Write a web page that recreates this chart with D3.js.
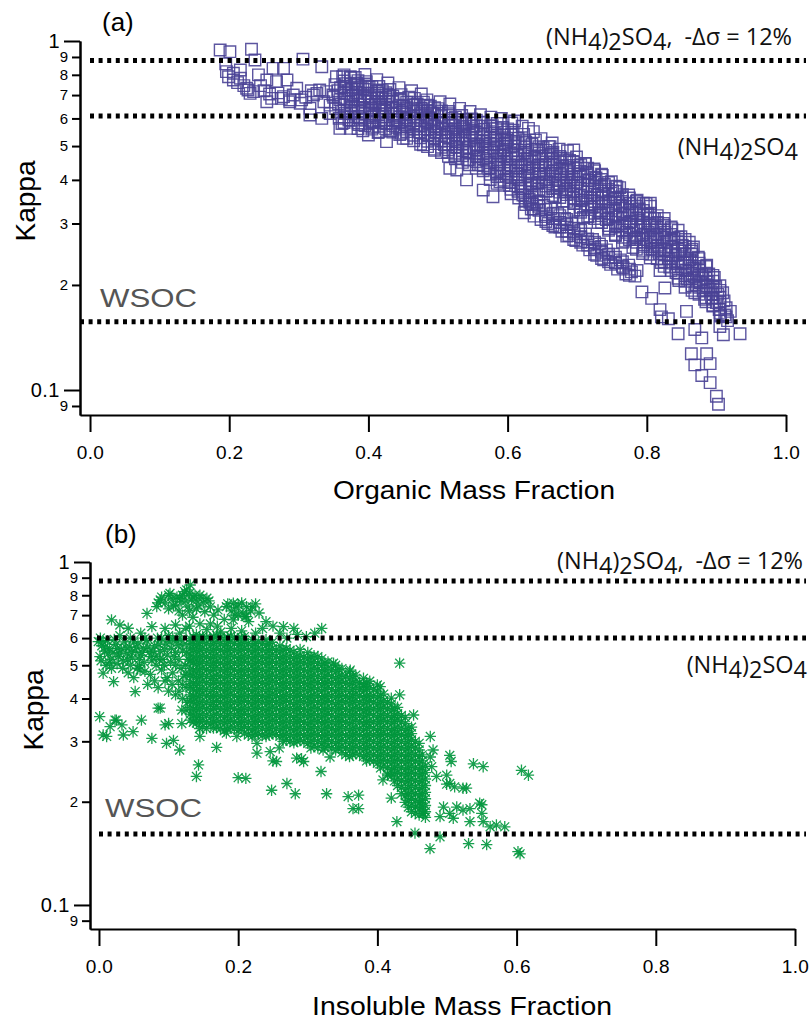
<!DOCTYPE html>
<html>
<head>
<meta charset="utf-8">
<script src="https://cdn.jsdelivr.net/npm/d3@7"></script>
<style>
  body { margin: 0; background: #fff; }
  svg { display: block; }
</style>
</head>
<body>
<div id="container"></div>
<script>
"use strict";

// axis ticks
const xTicks = [0, 0.2, 0.4, 0.6, 0.8, 1.0];
const yMajorTicks = [0.1, 1];
const yMinorTicks = [0.09, 0.2, 0.3, 0.4, 0.5, 0.6, 0.7, 0.8, 0.9];

// reference kappa lines: (NH4)2SO4 -12%, (NH4)2SO4, WSOC
const refKappaA = [0.88, 0.61, 0.157];
const refKappaB = [0.88, 0.60, 0.161];

// panel (a): [organic mass fraction, kappa]
const squaresA = [
  [0.187,0.942],[0.201,0.932],[0.232,0.947],[0.237,0.882],[0.196,0.817],[0.206,0.773],[0.216,0.782],[0.227,0.724],
  [0.235,0.716],[0.254,0.773],[0.263,0.835],[0.268,0.765],[0.278,0.835],[0.283,0.773],[0.261,0.685],[0.275,0.685],
  [0.287,0.678],[0.306,0.887],[0.333,0.844],[0.304,0.678],[0.321,0.70],[0.330,0.724],[0.354,0.79],[0.359,0.678],
  [0.374,0.79],[0.383,0.757],[0.230,0.708],[0.225,0.732],[0.254,0.67],[0.278,0.693],[0.287,0.67],[0.302,0.663],
  [0.316,0.641],[0.297,0.732],[0.326,0.708],[0.340,0.716],[0.206,0.808],[0.216,0.826],[0.199,0.79],[0.212,0.76],
  [0.221,0.745],[0.245,0.745],[0.25,0.72],[0.258,0.705],[0.27,0.71],[0.292,0.70],[0.31,0.69],[0.318,0.72],
  [0.336,0.67],[0.345,0.655],[0.35,0.69],[0.242,0.80],[0.195,0.86],[0.345,0.62],[0.316,0.614],[0.333,0.60],
  [0.352,0.75],[0.356,0.72],[0.349,0.70],[0.357,0.66],[0.353,0.64],[0.358,0.60],[0.362,0.58],
  [0.363,0.79],[0.367,0.755],[0.371,0.72],[0.369,0.683],[0.376,0.652],[0.379,0.628],[0.381,0.786],[0.385,0.748],
  [0.383,0.712],[0.388,0.676],[0.391,0.645],[0.387,0.603],[0.395,0.802],[0.397,0.765],[0.401,0.738],[0.399,0.706],
  [0.404,0.671],[0.403,0.642],[0.409,0.618],[0.407,0.588],[0.412,0.775],[0.415,0.741],[0.413,0.709],[0.419,0.688],
  [0.417,0.655],[0.423,0.632],[0.421,0.606],[0.426,0.579],[0.428,0.758],[0.431,0.726],[0.429,0.698],[0.435,0.671],
  [0.433,0.644],[0.437,0.618],[0.441,0.594],[0.439,0.566],[0.444,0.735],[0.447,0.702],[0.445,0.676],[0.451,0.652],
  [0.449,0.626],[0.455,0.602],[0.453,0.575],[0.458,0.69],[0.359,0.562],[0.374,0.562],[0.40,0.538],[0.426,0.515],
  [0.45,0.526],[0.386,0.576],[0.392,0.553],[0.414,0.547],[0.432,0.552],[0.447,0.544],[0.372,0.594],[0.406,0.566],
  [0.418,0.583],[0.366,0.62],[0.378,0.70],[0.394,0.69],[0.41,0.66],[0.425,0.69],[0.44,0.64],[0.36,0.735],
  [0.392,0.73],[0.42,0.72],
  [0.462,0.72],[0.466,0.685],[0.464,0.655],[0.469,0.628],[0.471,0.601],[0.468,0.574],[0.473,0.548],[0.476,0.705],
  [0.479,0.668],[0.477,0.64],[0.482,0.612],[0.484,0.588],[0.481,0.56],[0.486,0.535],[0.484,0.678],[0.489,0.65],
  [0.492,0.622],[0.49,0.596],[0.494,0.57],[0.497,0.546],[0.495,0.52],[0.479,0.504],[0.503,0.67],[0.5,0.64],
  [0.505,0.612],[0.508,0.585],[0.506,0.558],[0.511,0.532],[0.509,0.505],[0.514,0.48],[0.517,0.66],[0.515,0.628],
  [0.52,0.6],[0.522,0.574],[0.519,0.548],[0.525,0.522],[0.527,0.496],[0.524,0.47],[0.517,0.432],[0.527,0.427],
  [0.531,0.641],[0.534,0.612],[0.532,0.585],[0.537,0.56],[0.539,0.534],[0.536,0.508],[0.541,0.482],[0.543,0.456],
  [0.541,0.40],[0.546,0.628],[0.548,0.598],[0.551,0.57],[0.549,0.545],[0.554,0.52],[0.552,0.494],[0.556,0.468],
  [0.558,0.442],[0.47,0.66],[0.488,0.60],[0.5,0.58],[0.512,0.56],[0.526,0.55],[0.54,0.58],[0.495,0.49],
  [0.53,0.53],[0.46,0.59],[0.565,0.374],[0.579,0.358],
  [0.561,0.615],[0.563,0.585],[0.566,0.558],[0.564,0.532],[0.568,0.505],[0.571,0.48],[0.569,0.455],[0.573,0.43],
  [0.576,0.605],[0.578,0.572],[0.581,0.545],[0.583,0.52],[0.58,0.494],[0.585,0.468],[0.587,0.443],[0.584,0.418],
  [0.589,0.395],[0.591,0.6],[0.593,0.565],[0.595,0.538],[0.597,0.51],[0.594,0.484],[0.599,0.46],[0.601,0.434],
  [0.598,0.41],[0.603,0.385],[0.605,0.365],[0.606,0.582],[0.608,0.555],[0.611,0.527],[0.609,0.5],[0.613,0.474],
  [0.615,0.45],[0.612,0.425],[0.617,0.40],[0.619,0.378],[0.616,0.355],[0.621,0.57],[0.623,0.54],[0.626,0.512],
  [0.624,0.486],[0.628,0.46],[0.631,0.436],[0.629,0.412],[0.633,0.39],[0.635,0.368],[0.632,0.345],[0.637,0.33],
  [0.63,0.562],[0.637,0.55],[0.64,0.52],[0.642,0.49],[0.639,0.465],[0.644,0.44],[0.646,0.415],[0.643,0.392],
  [0.575,0.53],[0.59,0.47],[0.6,0.52],[0.62,0.44],[0.557,0.50],[0.585,0.58],[0.61,0.59],[0.6,0.56],
  [0.648,0.525],[0.651,0.495],[0.649,0.468],[0.654,0.442],[0.652,0.418],[0.656,0.395],[0.658,0.372],
  [0.661,0.498],[0.664,0.51],[0.663,0.475],[0.667,0.45],[0.665,0.425],[0.669,0.402],[0.671,0.38],[0.668,0.358],
  [0.674,0.49],[0.676,0.462],[0.679,0.438],[0.677,0.414],[0.681,0.392],[0.683,0.37],[0.68,0.348],
  [0.686,0.485],[0.689,0.455],[0.687,0.43],[0.692,0.408],[0.69,0.386],[0.694,0.364],[0.696,0.342],
  [0.699,0.465],[0.701,0.44],[0.703,0.416],[0.70,0.394],[0.705,0.372],[0.707,0.35],[0.704,0.328],[0.709,0.312],
  [0.712,0.445],[0.714,0.42],[0.717,0.398],[0.715,0.376],[0.719,0.355],[0.721,0.334],[0.718,0.315],
  [0.724,0.43],[0.727,0.405],[0.725,0.383],[0.729,0.362],[0.731,0.342],[0.733,0.322],[0.73,0.302],
  [0.736,0.412],[0.739,0.388],[0.737,0.366],[0.741,0.346],[0.744,0.327],[0.742,0.308],[0.746,0.29],
  [0.749,0.395],[0.751,0.372],[0.754,0.352],[0.752,0.332],[0.756,0.313],[0.758,0.295],[0.755,0.277],
  [0.761,0.38],[0.764,0.358],[0.762,0.338],[0.766,0.318],[0.768,0.30],[0.771,0.283],[0.769,0.267],
  [0.774,0.362],[0.776,0.342],[0.779,0.322],[0.777,0.304],[0.781,0.287],[0.783,0.27],[0.78,0.256],
  [0.786,0.35],[0.789,0.33],[0.787,0.31],[0.791,0.293],[0.793,0.277],[0.796,0.261],[0.794,0.246],
  [0.799,0.342],[0.801,0.32],[0.804,0.30],[0.802,0.283],[0.806,0.268],[0.808,0.253],[0.805,0.239],
  [0.811,0.31],[0.814,0.292],[0.812,0.275],[0.816,0.26],[0.818,0.246],[0.821,0.232],[0.819,0.22],
  [0.824,0.30],[0.826,0.283],[0.829,0.267],[0.827,0.252],[0.831,0.238],[0.833,0.225],
  [0.836,0.29],[0.839,0.272],[0.837,0.257],[0.841,0.243],[0.844,0.23],[0.842,0.217],[0.846,0.206],
  [0.849,0.275],[0.851,0.26],[0.854,0.245],[0.852,0.232],[0.856,0.22],[0.858,0.208],[0.855,0.197],
  [0.861,0.265],[0.864,0.25],[0.862,0.236],[0.866,0.223],[0.868,0.211],[0.871,0.20],[0.869,0.19],
  [0.867,0.257],[0.874,0.24],[0.876,0.226],[0.879,0.214],[0.877,0.203],[0.881,0.192],[0.883,0.182],
  [0.886,0.228],[0.889,0.215],[0.887,0.204],[0.891,0.194],[0.893,0.184],[0.895,0.175],
  [0.897,0.21],[0.899,0.198],[0.902,0.188],[0.90,0.178],[0.904,0.17],[0.906,0.163],
  [0.909,0.19],[0.911,0.18],[0.914,0.172],[0.912,0.164],[0.916,0.158],[0.92,0.168],
  [0.757,0.382],[0.805,0.343],[0.711,0.446],[0.695,0.487],[0.659,0.498],
  [0.622,0.362],[0.626,0.34],[0.624,0.322],[0.631,0.352],[0.634,0.33],[0.638,0.315],[0.642,0.345],[0.645,0.327],
  [0.648,0.308],[0.652,0.338],[0.655,0.318],[0.658,0.30],[0.662,0.33],[0.665,0.31],[0.668,0.293],[0.672,0.32],
  [0.675,0.302],[0.678,0.285],[0.682,0.31],[0.685,0.293],[0.688,0.277],[0.692,0.30],[0.695,0.284],[0.698,0.268],
  [0.702,0.29],[0.705,0.275],[0.708,0.26],[0.712,0.28],[0.715,0.266],[0.718,0.252],[0.722,0.27],[0.725,0.256],
  [0.728,0.243],[0.732,0.262],[0.735,0.248],[0.738,0.236],[0.742,0.252],[0.745,0.24],[0.748,0.229],[0.752,0.245],
  [0.755,0.232],[0.758,0.222],[0.762,0.236],[0.766,0.224],[0.77,0.215],[0.774,0.228],[0.778,0.218],[0.783,0.212],
  [0.786,0.22],
  [0.793,0.191],[0.807,0.183],[0.826,0.196],[0.819,0.170],[0.821,0.162],[0.831,0.160],[0.845,0.145],[0.857,0.168],
  [0.869,0.149],[0.879,0.141],[0.864,0.127],[0.869,0.118],[0.886,0.127],[0.891,0.119],[0.879,0.110],[0.891,0.105],
  [0.900,0.096],[0.903,0.091],[0.934,0.145],[0.910,0.144],[0.905,0.152],[0.914,0.162]
];

// panel (a): dense band, [organic mass fraction, [kappa...]]
const squaresACore = [
  [0.365,[0.80,0.768,0.741,0.709,0.684,0.655,0.632,0.605,0.584]],
  [0.375,[0.785,0.752,0.726,0.696,0.671,0.642,0.619,0.593]],
  [0.385,[0.77,0.738,0.711,0.682,0.657,0.63,0.607,0.582,0.561]],
  [0.395,[0.753,0.726,0.695,0.67,0.642,0.619,0.593,0.572]],
  [0.405,[0.74,0.709,0.684,0.655,0.632,0.605,0.584,0.559]],
  [0.415,[0.724,0.698,0.668,0.644,0.617,0.595,0.57,0.55]],
  [0.425,[0.711,0.682,0.657,0.63,0.607,0.582,0.561]],
  [0.435,[0.696,0.67,0.642,0.619,0.593,0.572,0.548]],
  [0.445,[0.684,0.655,0.632,0.605,0.584,0.559,0.539]],
  [0.455,[0.668,0.644,0.617,0.595,0.57,0.55,0.526]],
  [0.465,[0.657,0.63,0.607,0.582,0.561,0.537,0.518]],
  [0.475,[0.642,0.619,0.593,0.572,0.548,0.528,0.506]],
  [0.485,[0.655,0.632,0.605,0.584,0.559,0.539,0.516,0.498]],
  [0.495,[0.644,0.617,0.595,0.57,0.55,0.526,0.508,0.486]],
  [0.505,[0.63,0.607,0.582,0.561,0.537,0.518,0.496,0.479]],
  [0.515,[0.619,0.593,0.572,0.548,0.528,0.506,0.488,0.467]],
  [0.525,[0.605,0.584,0.559,0.539,0.516,0.498,0.477,0.46]],
  [0.535,[0.595,0.57,0.55,0.526,0.508,0.486,0.469,0.449]],
  [0.545,[0.582,0.561,0.537,0.518,0.496,0.479,0.458,0.442]],
  [0.555,[0.593,0.572,0.548,0.528,0.506,0.488,0.467,0.451,0.432]],
  [0.565,[0.584,0.559,0.539,0.516,0.498,0.477,0.46,0.44,0.425]],
  [0.575,[0.57,0.55,0.526,0.508,0.486,0.469,0.449,0.434,0.415,0.401]],
  [0.585,[0.561,0.537,0.518,0.496,0.479,0.458,0.442,0.423,0.409,0.391]],
  [0.595,[0.548,0.528,0.506,0.488,0.467,0.451,0.432,0.417,0.399,0.386]],
  [0.605,[0.539,0.516,0.498,0.477,0.46,0.44,0.425,0.407,0.393,0.376]],
  [0.615,[0.526,0.508,0.486,0.469,0.449,0.434,0.415,0.401,0.384,0.371]],
  [0.625,[0.518,0.496,0.479,0.458,0.442,0.423,0.409,0.391,0.378,0.361,0.349]],
  [0.635,[0.506,0.488,0.467,0.451,0.432,0.417,0.399,0.386,0.369,0.356,0.341]],
  [0.645,[0.498,0.477,0.46,0.44,0.425,0.407,0.393,0.376,0.363,0.347,0.336]],
  [0.655,[0.486,0.469,0.449,0.434,0.415,0.401,0.384,0.371,0.329,0.314,0.304]],
  [0.665,[0.479,0.458,0.442,0.423,0.409,0.391,0.378,0.361,0.321,0.31,0.296]],
  [0.675,[0.467,0.451,0.432,0.417,0.399,0.386,0.369,0.356,0.316,0.302,0.293]],
  [0.685,[0.46,0.44,0.425,0.407,0.393,0.376,0.363,0.347,0.308,0.298,0.285,0.276]],
  [0.695,[0.449,0.434,0.415,0.401,0.384,0.371,0.355,0.343,0.327,0.291,0.281,0.27]],
  [0.705,[0.442,0.423,0.409,0.391,0.378,0.361,0.349,0.334,0.323,0.287,0.274,0.265]],
  [0.715,[0.432,0.417,0.399,0.386,0.369,0.356,0.341,0.329,0.314,0.271,0.26]],
  [0.725,[0.425,0.407,0.393,0.376,0.363,0.347,0.336,0.321,0.31,0.265,0.253,0.245]],
  [0.735,[0.415,0.401,0.384,0.371,0.355,0.343,0.327,0.316,0.302,0.258,0.25,0.238]],
  [0.745,[0.393,0.376,0.363,0.347,0.336,0.321,0.31,0.296,0.287,0.245,0.233]],
  [0.755,[0.384,0.371,0.355,0.343,0.327,0.316,0.302,0.293,0.279,0.24,0.231]],
  [0.765,[0.363,0.347,0.336,0.321,0.31,0.296,0.287,0.274,0.265,0.233,0.226]],
  [0.775,[0.355,0.343,0.327,0.316,0.302,0.293,0.279,0.27,0.222,0.213]],
  [0.785,[0.347,0.336,0.321,0.31,0.296,0.287,0.274,0.265,0.253]],
  [0.795,[0.343,0.327,0.316,0.302,0.293,0.279,0.27,0.258,0.25]],
  [0.805,[0.336,0.321,0.31,0.296,0.287,0.274,0.265,0.253,0.245]],
  [0.815,[0.316,0.302,0.293,0.279,0.27,0.258,0.25,0.238]],
  [0.825,[0.31,0.296,0.287,0.274,0.265,0.253,0.245,0.233,0.226]],
  [0.835,[0.293,0.279,0.27,0.258,0.25,0.238,0.231,0.22]],
  [0.845,[0.287,0.274,0.265,0.253,0.245,0.233,0.226,0.216,0.209]],
  [0.855,[0.27,0.258,0.25,0.238,0.231,0.22,0.213,0.205]],
  [0.865,[0.253,0.245,0.233,0.226,0.216,0.209,0.199,0.193]],
  [0.875,[0.238,0.231,0.22,0.213,0.205,0.197,0.188]],
  [0.885,[0.226,0.216,0.209,0.199,0.193,0.184,0.179]],
  [0.895,[0.213,0.205,0.197,0.188,0.183,0.174]],
  [0.905,[0.199,0.193,0.184,0.179,0.17,0.166]]
];

// panel (b): [insoluble mass fraction, kappa], scattered points
const starsB = [
  [-0.001,0.586],[0.0014,0.53],[0.006,0.474],[0.021,0.448],[0.018,0.678],[0.03,0.655],[0.042,0.641],[0.052,0.419],
  [0.059,0.484],[0.076,0.648],[0.083,0.741],[0.069,0.708],[0.088,0.775],[0.102,0.81],[0.116,0.784],[0.126,0.829],
  [0.131,0.857],[0.155,0.784],[0.171,0.725],[0.183,0.741],[0.193,0.758],[0.212,0.741],[0.21,0.693],[0.265,0.648],
  [0.298,0.606],[0.337,0.507],[0.432,0.507],[0.432,0.41],
  [0.001,0.354],[0.016,0.331],[0.025,0.346],[0.061,0.346],[0.006,0.313],[0.035,0.313],[0.049,0.32],[0.076,0.306],
  [0.10,0.338],[0.107,0.302],[0.119,0.338],[0.085,0.375],[0.119,0.37],[0.143,0.256],[0.011,0.31],[0.023,0.346],
  [0.033,0.335],[0.088,0.375],[0.095,0.335],
  [0.004,0.57],[0.008,0.55],[0.012,0.59],[0.015,0.56],[0.02,0.545],[0.024,0.575],[0.028,0.53],[0.032,0.555],
  [0.036,0.585],[0.04,0.54],[0.044,0.565],[0.048,0.525],[0.052,0.55],[0.056,0.58],[0.06,0.535],[0.064,0.56],
  [0.068,0.59],[0.072,0.545],[0.076,0.515],[0.08,0.57],[0.084,0.60],[0.088,0.55],[0.092,0.52],[0.096,0.58],
  [0.10,0.61],[0.104,0.56],[0.108,0.53],[0.112,0.59],[0.116,0.62],[0.12,0.55],[0.124,0.50],[0.003,0.515],
  [0.01,0.50],[0.018,0.49],[0.026,0.505],[0.034,0.49],[0.042,0.475],[0.05,0.46],[0.058,0.50],[0.066,0.48],
  [0.074,0.47],[0.082,0.50],[0.09,0.485],[0.098,0.46],[0.106,0.475],[0.114,0.45],[0.122,0.465],[0.07,0.44],
  [0.085,0.43],[0.10,0.42],[0.11,0.41],[0.12,0.40],[0.125,0.43],[0.045,0.60],[0.03,0.61],[0.06,0.62],
  [0.095,0.64],[0.11,0.655],[0.125,0.64],[0.08,0.45],[0.115,0.52],
  [0.002,0.60],[0.006,0.585],[0.009,0.565],[0.013,0.54],[0.017,0.52],[0.022,0.595],[0.026,0.56],[0.029,0.54],
  [0.038,0.565],[0.041,0.52],[0.047,0.545],[0.05,0.585],[0.054,0.565],[0.058,0.52],[0.062,0.545],[0.066,0.60],
  [0.07,0.565],[0.078,0.55],[0.082,0.53],[0.086,0.575],[0.09,0.60],[0.094,0.555],[0.098,0.535],[0.102,0.585],
  [0.106,0.60],[0.11,0.545],[0.114,0.57],[0.118,0.595],[0.122,0.575],[0.126,0.545],[0.128,0.52],[0.118,0.49],
  [0.11,0.50],[0.103,0.51],[0.094,0.50],[0.087,0.52],[0.075,0.53],[0.065,0.51],[0.055,0.49],[0.045,0.50],
  [0.035,0.515],[0.015,0.51],[0.125,0.47],[0.12,0.44],[0.115,0.42],[0.105,0.44],[0.095,0.45],[0.127,0.39],
  [0.125,0.37],
  [0.09,0.79],[0.095,0.76],[0.105,0.78],[0.11,0.75],[0.12,0.80],[0.125,0.77],[0.13,0.81],[0.135,0.79],
  [0.14,0.77],[0.145,0.80],[0.15,0.76],[0.14,0.73],[0.115,0.72],[0.10,0.73],[0.128,0.74],[0.16,0.74],
  [0.165,0.70],[0.152,0.716],[0.19,0.72],[0.20,0.70],[0.22,0.74],[0.23,0.71],[0.20,0.75],[0.215,0.67],
  [0.193,0.678],[0.212,0.693],[0.18,0.68],[0.17,0.65],[0.16,0.66],[0.145,0.66],[0.135,0.69],[0.24,0.67],
  [0.25,0.65],[0.28,0.64],[0.285,0.615],[0.31,0.62],[0.32,0.64],
  [0.085,0.76],[0.10,0.80],[0.112,0.79],[0.118,0.765],[0.123,0.82],[0.133,0.775],[0.138,0.80],[0.148,0.785],
  [0.107,0.745],[0.13,0.72],[0.12,0.70],[0.142,0.745],[0.158,0.77],[0.185,0.755],[0.197,0.735],[0.205,0.76],
  [0.218,0.72],[0.225,0.755],[0.207,0.71],[0.195,0.70],
  [0.13,0.65],[0.155,0.635],[0.175,0.625],[0.19,0.64],[0.205,0.63],[0.225,0.62],[0.235,0.64],[0.26,0.62],[0.27,0.60],
  [0.361,0.484],[0.38,0.433],[0.404,0.433],[0.452,0.358],[0.476,0.31],[0.48,0.283],[0.476,0.27],
  [0.478,0.253],[0.485,0.237],[0.4996,0.239],[0.504,0.226],[0.511,0.221],[0.523,0.219],[0.514,0.193],[0.523,0.189],
  [0.533,0.191],[0.504,0.185],[0.49,0.181],[0.495,0.193],[0.466,0.185],[0.461,0.198],[0.547,0.198],[0.55,0.185],
  [0.533,0.175],[0.552,0.175],[0.562,0.169],[0.571,0.171],
  [0.538,0.258],[0.552,0.253],[0.504,0.273],[0.506,0.262],[0.528,0.219],[0.4995,0.225],
  [0.4756,0.146],[0.490,0.158],[0.454,0.162],[0.428,0.175],[0.531,0.151],[0.557,0.150],[0.602,0.143],[0.605,0.141],
  [0.583,0.169],[0.550,0.196],[0.509,0.179],[0.607,0.247],[0.617,0.239],
  [0.14,0.237],[0.20,0.235],[0.211,0.234],[0.248,0.216],[0.27,0.226],[0.282,0.211],[0.319,0.245],[0.327,0.211],
  [0.358,0.207],[0.373,0.209],[0.365,0.191],[0.373,0.191],[0.408,0.2315],[0.415,0.239],[0.42,0.205],
  [0.227,0.277],[0.25,0.263],[0.259,0.287],[0.291,0.267],
  [0.227,0.296],[0.246,0.28],[0.255,0.262],[0.284,0.268],[0.294,0.262],[0.322,0.283],[0.332,0.27],
  [0.097,0.296],[0.116,0.283],[0.145,0.31],[0.169,0.288],[0.183,0.317],[0.198,0.31]
];

// panel (b): dense core, [insoluble mass fraction, [kappa...]]
const starsBCore = [
  [0.131,[0.598,0.579,0.558,0.535,0.514,0.489,0.468,0.448,0.431,0.41,0.395,0.376,0.36,0.346]],
  [0.1355,[0.604,0.577,0.554,0.528,0.508,0.484,0.465,0.443,0.426,0.406,0.391,0.372,0.358,0.341]],
  [0.140,[0.614,0.594,0.57,0.548,0.522,0.503,0.478,0.46,0.437,0.42,0.402,0.386,0.368,0.352,0.339]],
  [0.1445,[0.605,0.578,0.552,0.53,0.506,0.486,0.463,0.445,0.424,0.408,0.389,0.374,0.356,0.343,0.327]],
  [0.149,[0.607,0.583,0.56,0.533,0.513,0.49,0.47,0.449,0.429,0.412,0.393,0.377,0.361,0.344,0.331]],
  [0.1545,[0.603,0.579,0.553,0.529,0.507,0.485,0.464,0.444,0.425,0.407,0.39,0.373,0.357,0.342,0.327]],
  [0.160,[0.598,0.572,0.546,0.524,0.50,0.481,0.457,0.44,0.419,0.404,0.384,0.37,0.353,0.337]],
  [0.1645,[0.606,0.578,0.554,0.529,0.508,0.485,0.464,0.445,0.425,0.407,0.39,0.374,0.357,0.342,0.328]],
  [0.169,[0.612,0.585,0.559,0.536,0.511,0.492,0.467,0.45,0.43,0.41,0.394,0.379,0.36,0.345,0.329]],
  [0.1745,[0.603,0.577,0.553,0.528,0.507,0.484,0.465,0.443,0.426,0.406,0.39,0.372,0.357,0.341,0.327]],
  [0.180,[0.597,0.57,0.548,0.522,0.502,0.478,0.459,0.438,0.421,0.402,0.386,0.368,0.353,0.338,0.322]],
  [0.1845,[0.604,0.579,0.552,0.53,0.506,0.486,0.464,0.445,0.424,0.408,0.389,0.374,0.356,0.343,0.326]],
  [0.189,[0.608,0.584,0.56,0.535,0.512,0.49,0.47,0.447,0.43,0.411,0.393,0.377,0.362,0.344,0.33]],
  [0.1945,[0.602,0.578,0.553,0.529,0.507,0.485,0.464,0.444,0.425,0.407,0.39,0.373,0.357,0.342,0.327]],
  [0.200,[0.596,0.571,0.547,0.524,0.50,0.48,0.458,0.439,0.42,0.403,0.385,0.369,0.352,0.339,0.323]],
  [0.2045,[0.603,0.577,0.554,0.528,0.508,0.484,0.465,0.443,0.426,0.406,0.391,0.372,0.358,0.341,0.328]],
  [0.209,[0.606,0.583,0.559,0.534,0.513,0.489,0.469,0.449,0.428,0.412,0.394,0.377,0.361,0.345,0.331,0.317]],
  [0.2145,[0.578,0.553,0.529,0.507,0.485,0.464,0.444,0.425,0.407,0.39,0.373,0.357,0.342,0.327,0.313]],
  [0.220,[0.595,0.57,0.547,0.522,0.501,0.479,0.46,0.438,0.42,0.401,0.386,0.368,0.354,0.337,0.324,0.31]],
  [0.2245,[0.579,0.552,0.53,0.506,0.486,0.463,0.445,0.424,0.408,0.389,0.374,0.356,0.343,0.326,0.314]],
  [0.229,[0.585,0.561,0.535,0.513,0.49,0.469,0.449,0.43,0.41,0.395,0.377,0.36,0.345,0.331,0.316]],
  [0.2345,[0.577,0.554,0.528,0.508,0.484,0.465,0.443,0.426,0.406,0.391,0.372,0.358,0.341,0.328,0.312]],
  [0.240,[0.594,0.572,0.546,0.523,0.502,0.479,0.459,0.44,0.419,0.402,0.385,0.369,0.353,0.338,0.323,0.31]],
  [0.2445,[0.578,0.553,0.529,0.507,0.485,0.464,0.444,0.425,0.407,0.39,0.373,0.357,0.342,0.327,0.313]],
  [0.249,[0.583,0.559,0.536,0.512,0.491,0.468,0.449,0.429,0.411,0.394,0.377,0.361,0.345,0.33,0.316]],
  [0.2545,[0.552,0.53,0.506,0.486,0.463,0.445,0.424,0.408,0.389,0.374,0.356,0.343,0.326,0.314]],
  [0.260,[0.57,0.547,0.523,0.501,0.479,0.459,0.439,0.421,0.402,0.386,0.368,0.353,0.338,0.323,0.31]],
  [0.2645,[0.554,0.528,0.508,0.484,0.465,0.443,0.426,0.406,0.391,0.372,0.358,0.341,0.328,0.312,0.30]],
  [0.269,[0.559,0.535,0.512,0.49,0.469,0.448,0.43,0.411,0.394,0.377,0.36,0.346,0.33,0.316,0.303]],
  [0.2745,[0.553,0.529,0.507,0.485,0.464,0.444,0.425,0.407,0.39,0.373,0.357,0.342,0.327,0.313,0.30]],
  [0.280,[0.547,0.523,0.502,0.478,0.46,0.438,0.42,0.403,0.385,0.369,0.352,0.338,0.324,0.309,0.297]],
  [0.2845,[0.53,0.506,0.486,0.463,0.445,0.424,0.408,0.389,0.374,0.356,0.343,0.326,0.314,0.30]],
  [0.289,[0.556,0.534,0.512,0.49,0.469,0.449,0.43,0.411,0.394,0.376,0.362,0.345,0.331,0.316,0.303]],
  [0.2945,[0.528,0.508,0.484,0.465,0.443,0.426,0.406,0.391,0.372,0.358,0.341,0.328,0.312,0.299]],
  [0.300,[0.545,0.522,0.501,0.478,0.459,0.439,0.421,0.402,0.386,0.368,0.353,0.337,0.323,0.31,0.296]],
  [0.3045,[0.529,0.507,0.485,0.464,0.444,0.425,0.407,0.39,0.373,0.357,0.342,0.327,0.313,0.30,0.287]],
  [0.309,[0.533,0.512,0.49,0.468,0.449,0.431,0.41,0.395,0.377,0.361,0.345,0.331,0.316,0.303,0.29]],
  [0.3145,[0.53,0.506,0.486,0.463,0.445,0.424,0.408,0.389,0.374,0.356,0.343,0.326,0.314,0.30,0.287]],
  [0.320,[0.522,0.50,0.48,0.458,0.44,0.42,0.402,0.385,0.368,0.353,0.339,0.323,0.31,0.296]],
  [0.3245,[0.508,0.484,0.465,0.443,0.426,0.406,0.391,0.372,0.358,0.341,0.328,0.312,0.30,0.288]],
  [0.329,[0.511,0.491,0.469,0.449,0.43,0.411,0.394,0.377,0.361,0.345,0.33,0.317,0.303,0.29]],
  [0.3345,[0.485,0.464,0.444,0.425,0.407,0.39,0.373,0.357,0.342,0.327,0.313,0.30,0.287]],
  [0.340,[0.50,0.479,0.459,0.438,0.42,0.403,0.385,0.368,0.353,0.337,0.324,0.309,0.296,0.283]],
  [0.3445,[0.486,0.463,0.445,0.424,0.408,0.389,0.374,0.356,0.343,0.326,0.314,0.30,0.287]],
  [0.349,[0.489,0.468,0.449,0.43,0.41,0.394,0.377,0.361,0.345,0.331,0.316,0.303,0.29,0.278]],
  [0.3545,[0.465,0.443,0.426,0.406,0.391,0.372,0.358,0.341,0.328,0.312,0.30,0.287,0.274]],
  [0.360,[0.479,0.459,0.44,0.419,0.402,0.386,0.368,0.353,0.338,0.323,0.31,0.296,0.283,0.271]],
  [0.3645,[0.464,0.444,0.425,0.407,0.39,0.373,0.357,0.342,0.327,0.313,0.30,0.287,0.274]],
  [0.369,[0.468,0.449,0.43,0.411,0.394,0.376,0.361,0.346,0.33,0.316,0.303,0.29,0.277]],
  [0.3745,[0.445,0.424,0.408,0.389,0.374,0.356,0.343,0.326,0.314,0.30,0.287,0.274]],
  [0.380,[0.458,0.439,0.42,0.403,0.385,0.369,0.353,0.337,0.323,0.31,0.296,0.284,0.271]],
  [0.3845,[0.443,0.426,0.406,0.391,0.372,0.358,0.341,0.328,0.312,0.30,0.287,0.274,0.263]],
  [0.389,[0.449,0.43,0.41,0.394,0.377,0.362,0.345,0.331,0.316,0.303,0.29,0.277,0.265]],
  [0.3945,[0.425,0.407,0.39,0.373,0.357,0.342,0.327,0.313,0.30,0.287,0.274,0.263]],
  [0.400,[0.438,0.42,0.402,0.386,0.368,0.353,0.338,0.323,0.31,0.296,0.283,0.271,0.259]],
  [0.4045,[0.408,0.389,0.374,0.356,0.343,0.326,0.314,0.30,0.287,0.274,0.263,0.251]],
  [0.409,[0.412,0.394,0.377,0.361,0.345,0.331,0.316,0.303,0.29,0.277,0.265,0.254]],
  [0.4145,[0.39,0.373,0.357,0.342,0.327,0.313,0.30,0.287,0.274,0.263,0.251,0.241]],
  [0.420,[0.401,0.385,0.369,0.352,0.338,0.323,0.31,0.296,0.283,0.271,0.259,0.248,0.238]],
  [0.4245,[0.374,0.356,0.343,0.326,0.314,0.30,0.287,0.274,0.263,0.251,0.241,0.23]],
  [0.429,[0.377,0.361,0.346,0.33,0.316,0.303,0.29,0.277,0.265,0.254,0.243,0.233,0.223]],
  [0.4345,[0.357,0.342,0.327,0.313,0.30,0.287,0.274,0.263,0.251,0.241,0.23,0.22,0.211]],
  [0.440,[0.352,0.338,0.323,0.31,0.296,0.283,0.271,0.259,0.248,0.238,0.228,0.218,0.208,0.199]],
  [0.4445,[0.327,0.313,0.30,0.287,0.274,0.263,0.251,0.241,0.23,0.22,0.211,0.202,0.193]],
  [0.449,[0.33,0.316,0.303,0.29,0.277,0.265,0.254,0.243,0.233,0.223,0.213,0.204,0.195,0.187]],
  [0.4545,[0.30,0.287,0.274,0.263,0.251,0.241,0.23,0.22,0.211,0.202,0.193,0.185]],
  [0.460,[0.296,0.283,0.271,0.259,0.248,0.238,0.228,0.218,0.208,0.199,0.191,0.183]],
  [0.4645,[0.274,0.263,0.251,0.241,0.23,0.22,0.211,0.202,0.193,0.185]],
  [0.469,[0.254,0.243,0.233,0.223,0.213,0.204,0.195,0.187,0.18]]
];

const width = 809;
const height = 1020;
const sansFont = "'Liberation Sans', Arial, sans-serif";

const svg = d3.select("#container")
  .append("svg")
  .attr("width", width)
  .attr("height", height);

// 8-armed asterisk marker
const asterisk = {
  draw(context, size) {
    const r = Math.sqrt(size) / 2;
    const d = r * 0.78;
    context.moveTo(-r, 0); context.lineTo(r, 0);
    context.moveTo(0, -r); context.lineTo(0, r);
    context.moveTo(-d, -d); context.lineTo(d, d);
    context.moveTo(-d, d); context.lineTo(d, -d);
  }
};

const formulaParts = [["(NH", 0], ["4", 1], [")", 0], ["2", 1], ["SO", 0], ["4", 1]];

const addFormula = (g, x, y, tail) => {
  const t = g.append("text")
    .attr("x", x)
    .attr("y", y)
    .attr("text-anchor", "end")
    .style("font-family", "'Open Sans', 'Noto Sans', sans-serif")
    .style("font-size", "23.5px")
    .style("fill", "#111");
  let shifted = 0;
  const parts = tail ? formulaParts.concat([[",", 0], ["-Δσ = 12%", 0]]) : formulaParts;
  parts.forEach((p) => {
    const target = p[1] ? 5 : 0;
    const ts = t.append("tspan").attr("dy", target - shifted).text(p[0]);
    if (p[0].startsWith("-")) ts.attr("dx", 12);
    shifted = target;
  });
};

const flatten = (cols) => {
  const out = [];
  cols.forEach((c) => c[1].forEach((k) => out.push([c[0], k])));
  return out;
};

const drawPanel = (cfg) => {
  const g = svg.append("g");

  const x = d3.scaleLinear().domain([cfg.xMin, 1]).range([cfg.left, cfg.right]);
  const y = d3.scaleLog().domain([cfg.yMin, 1]).range([cfg.bottom, cfg.top]);

  // points
  const sym = d3.symbol().type(cfg.symbol).size(cfg.symbolSize);
  g.append("g")
    .selectAll("path")
    .data(cfg.points)
    .enter()
    .append("path")
    .attr("transform", (d) => `translate(${x(d[0])},${y(d[1])})`)
    .attr("d", sym)
    .style("fill", "none")
    .style("stroke", cfg.color)
    .style("stroke-width", cfg.strokeWidth)
    .style("stroke-opacity", cfg.opacity);

  // dotted reference lines
  g.append("g")
    .selectAll("line")
    .data(cfg.refs)
    .enter()
    .append("line")
    .attr("x1", (d, i) => cfg.refStart[i])
    .attr("x2", 806)
    .attr("y1", (d) => y(d))
    .attr("y2", (d) => y(d))
    .style("stroke", "#000")
    .style("stroke-width", 5)
    .style("stroke-dasharray", "4 4.6");

  // axes
  const axisStyle = (a) => {
    a.selectAll("path, line").style("stroke", "#000").style("stroke-width", 2);
    a.selectAll("text").style("fill", "#000").style("font-family", sansFont);
  };

  g.append("g")
    .attr("transform", `translate(${cfg.left},0)`)
    .call(d3.axisLeft(y).tickValues(yMinorTicks).tickSize(8).tickSizeOuter(0).tickPadding(4)
      .tickFormat((d) => d < 0.1 ? String(Math.round(d * 100)) : String(Math.round(d * 10))))
    .call(axisStyle)
    .call((a) => a.selectAll("text").style("font-size", "15px"));

  g.append("g")
    .attr("transform", `translate(${cfg.left},0)`)
    .call(d3.axisLeft(y).tickValues(yMajorTicks).tickSize(16).tickSizeOuter(0).tickPadding(4)
      .tickFormat((d) => d === 1 ? "1" : "0.1"))
    .call(axisStyle)
    .call((a) => a.selectAll("text").style("font-size", "20px").style("letter-spacing", "0.5px"));

  g.append("g")
    .attr("transform", `translate(0,${cfg.bottom})`)
    .call(d3.axisBottom(x).tickValues(xTicks).tickSize(17).tickSizeOuter(0).tickPadding(14)
      .tickFormat(d3.format(".1f")))
    .call(axisStyle)
    .call((a) => a.selectAll("text").style("font-size", "19px").style("letter-spacing", "0.3px"));

  // labels
  g.append("text")
    .attr("x", cfg.panelLabel[1])
    .attr("y", cfg.panelLabel[2])
    .text(cfg.panelLabel[0])
    .style("font-family", sansFont)
    .style("font-size", "26px");

  g.append("text")
    .attr("transform", `translate(${cfg.kappaX},${cfg.kappaY}) rotate(-90)`)
    .attr("text-anchor", "middle")
    .text("Kappa")
    .style("font-family", sansFont)
    .style("font-size", "28px");

  g.append("text")
    .attr("x", cfg.titleX)
    .attr("y", cfg.titleY)
    .attr("text-anchor", "middle")
    .attr("textLength", cfg.titleLen)
    .attr("lengthAdjust", "spacingAndGlyphs")
    .text(cfg.title)
    .style("font-family", sansFont)
    .style("font-size", "26px");

  g.append("text")
    .attr("x", cfg.wsoc[0])
    .attr("y", cfg.wsoc[1])
    .attr("textLength", 97)
    .attr("lengthAdjust", "spacingAndGlyphs")
    .text("WSOC")
    .style("font-family", sansFont)
    .style("font-size", "25px")
    .style("fill", "#555");

  addFormula(g, cfg.label1[0], cfg.label1[1], true);
  addFormula(g, cfg.label2[0], cfg.label2[1], false);
};

drawPanel({
  left: 80, right: 786, top: 41, bottom: 415, xMin: -0.0144, yMin: 0.0848,
  points: squaresA.concat(flatten(squaresACore)), symbol: d3.symbolSquare, symbolSize: 132,
  color: "#4a4296", strokeWidth: 1.4, opacity: 0.9,
  refs: refKappaA, refStart: [90, 90, 80],
  panelLabel: ["(a)", 102, 31], kappaX: 35, kappaY: 201,
  title: "Organic Mass Fraction", titleX: 474, titleY: 499, titleLen: 282,
  wsoc: [100, 307], label1: [792, 45], label2: [798, 155]
});

drawPanel({
  left: 90, right: 795, top: 562, bottom: 929, xMin: -0.0129, yMin: 0.0851,
  points: starsB.concat(flatten(starsBCore)), symbol: asterisk, symbolSize: 130,
  color: "#00963c", strokeWidth: 1.3, opacity: 0.9,
  refs: refKappaB, refStart: [99, 97, 99],
  panelLabel: ["(b)", 105, 543], kappaX: 43, kappaY: 710,
  title: "Insoluble  Mass  Fraction", titleX: 462, titleY: 1015, titleLen: 300,
  wsoc: [105, 817], label1: [803, 569], label2: [807, 673]
});
</script>
</body>
</html>
